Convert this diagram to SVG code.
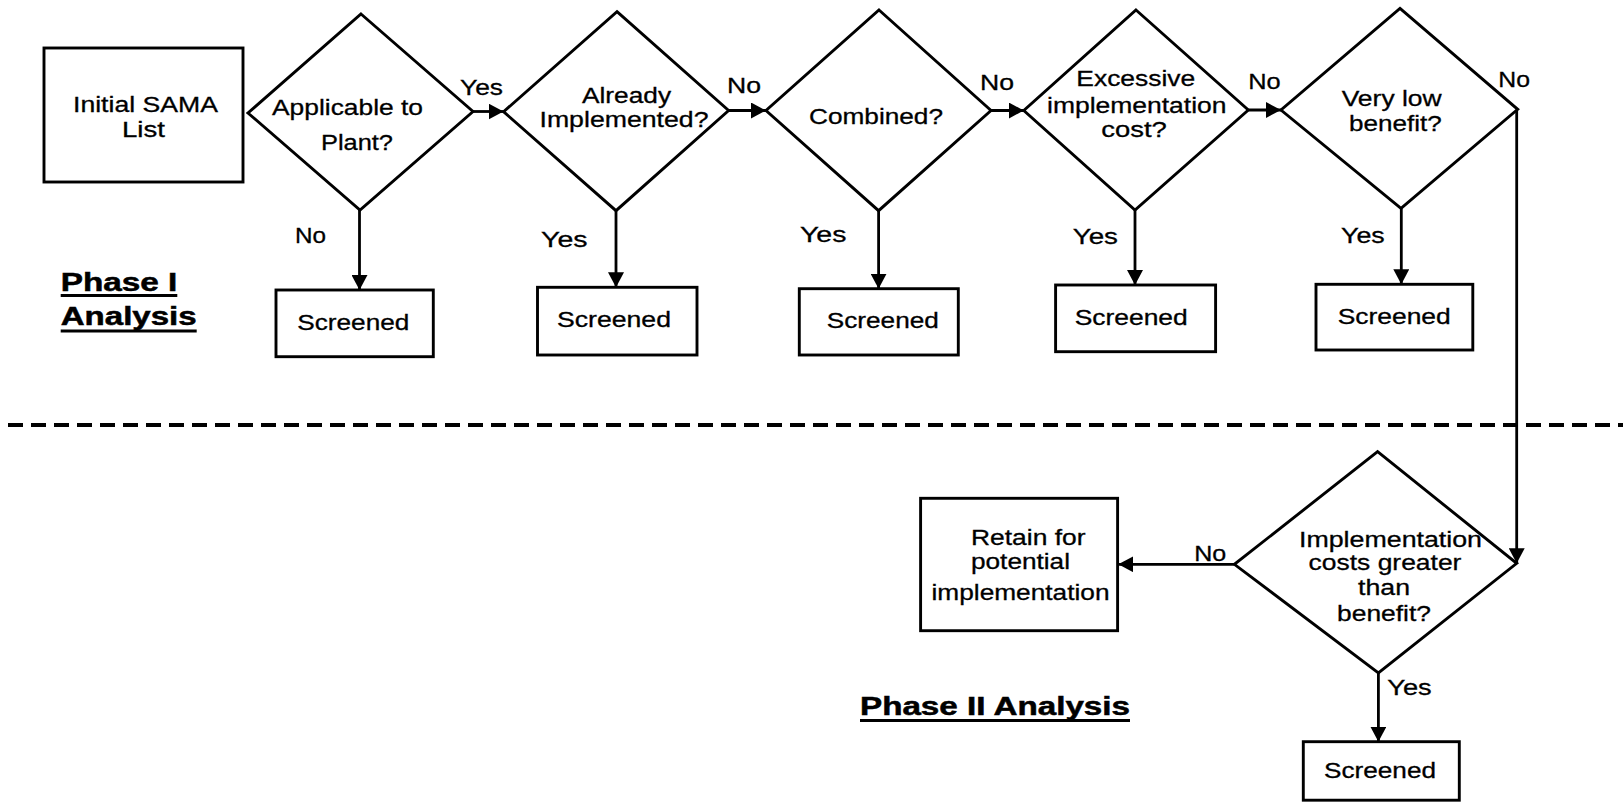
<svg xmlns="http://www.w3.org/2000/svg" width="1623" height="802" viewBox="0 0 1623 802">
<defs>
<style>
.shape{fill:#fff;stroke:#000;stroke-width:2.9}
.conn{fill:none;stroke:#000;stroke-width:2.8}
.t{font-family:"Liberation Sans",Arial,sans-serif;font-size:22px;fill:#000;stroke:#000;stroke-width:0.3}
.h{font-family:"Liberation Sans",Arial,sans-serif;font-size:25px;font-weight:bold;fill:#000;stroke:#000;stroke-width:0.5}
.ul{stroke:#000;stroke-width:3}
.dash{stroke:#000;stroke-width:4;stroke-dasharray:15 8;fill:none}
</style>
<marker id="arr" viewBox="0 0 15 16" refX="15" refY="8" markerWidth="15" markerHeight="16" markerUnits="userSpaceOnUse" orient="auto">
<path d="M0,0 L15,8 L0,16 Z" fill="#000"/>
</marker>
</defs>
<rect width="1623" height="802" fill="#fff"/>

<g id="connectors">
<polygon points="246,113 265,107 265,119" fill="#000"/>
<line class="conn" x1="473" y1="111.5" x2="503.5" y2="111.5" marker-end="url(#arr)"/>
<line class="conn" x1="728.6" y1="110.5" x2="766" y2="110.5" marker-end="url(#arr)"/>
<line class="conn" x1="991" y1="110.5" x2="1023.8" y2="110.5" marker-end="url(#arr)"/>
<line class="conn" x1="1248.3" y1="110" x2="1281" y2="110" marker-end="url(#arr)"/>
<line class="conn" x1="359.5" y1="210" x2="359.5" y2="290" marker-end="url(#arr)"/>
<line class="conn" x1="616" y1="210.7" x2="616" y2="287.3" marker-end="url(#arr)"/>
<line class="conn" x1="878.6" y1="210.7" x2="878.6" y2="288.7" marker-end="url(#arr)"/>
<line class="conn" x1="1135" y1="210" x2="1135" y2="285" marker-end="url(#arr)"/>
<line class="conn" x1="1401.3" y1="208.3" x2="1401.3" y2="284.3" marker-end="url(#arr)"/>
<polyline class="conn" points="1517.7,109.3 1516.7,109.3 1516.7,563.3" marker-end="url(#arr)"/>
<line class="conn" x1="1234.4" y1="564.3" x2="1118.3" y2="564.3" marker-end="url(#arr)"/>
<line class="conn" x1="1378.4" y1="673" x2="1378.4" y2="741.7" marker-end="url(#arr)"/>
</g>

<g id="phase-divider">
<line class="dash" x1="8" y1="425" x2="1623" y2="425"/>
</g>

<g id="initial-sama-list">
<rect class="shape" x="44" y="48" width="199" height="134"/>
<text class="t" x="73" y="111.7" textLength="145" lengthAdjust="spacingAndGlyphs">Initial SAMA</text>
<text class="t" x="122" y="136.7" textLength="43" lengthAdjust="spacingAndGlyphs">List</text>
</g>

<g id="d-applicable">
<polygon class="shape" points="361,14 473,111.5 360,210 248,113"/>
<text class="t" x="272" y="115" textLength="151" lengthAdjust="spacingAndGlyphs">Applicable to</text>
<text class="t" x="321" y="150" textLength="72" lengthAdjust="spacingAndGlyphs">Plant?</text>
</g>

<g id="d-implemented">
<polygon class="shape" points="617,11.7 728.6,110.5 616,210.7 503.6,111.7"/>
<text class="t" x="582" y="103.3" textLength="89" lengthAdjust="spacingAndGlyphs">Already</text>
<text class="t" x="539.5" y="126.7" textLength="169" lengthAdjust="spacingAndGlyphs">Implemented?</text>
</g>

<g id="d-combined">
<polygon class="shape" points="879,10 991,110.5 878.6,210.7 766,110.5"/>
<text class="t" x="809" y="124" textLength="134" lengthAdjust="spacingAndGlyphs">Combined?</text>
</g>

<g id="d-excessive">
<polygon class="shape" points="1136,10 1248.3,110 1135,210 1023.8,110.5"/>
<text class="t" x="1076.3" y="86" textLength="119" lengthAdjust="spacingAndGlyphs">Excessive</text>
<text class="t" x="1047" y="113.3" textLength="179.5" lengthAdjust="spacingAndGlyphs">implementation</text>
<text class="t" x="1101.3" y="137.3" textLength="65.6" lengthAdjust="spacingAndGlyphs">cost?</text>
</g>

<g id="d-lowbenefit">
<polygon class="shape" points="1400,8.3 1517.7,109.3 1401,208.3 1281,110"/>
<text class="t" x="1341.7" y="106" textLength="100" lengthAdjust="spacingAndGlyphs">Very low</text>
<text class="t" x="1349" y="130.7" textLength="92.7" lengthAdjust="spacingAndGlyphs">benefit?</text>
</g>

<g id="screened-1">
<rect class="shape" x="276" y="290" width="157.3" height="66.7"/>
<text class="t" x="297.3" y="330" textLength="112" lengthAdjust="spacingAndGlyphs">Screened</text>
</g>
<g id="screened-2">
<rect class="shape" x="537.5" y="287.3" width="159.5" height="67.7"/>
<text class="t" x="557" y="326.7" textLength="114" lengthAdjust="spacingAndGlyphs">Screened</text>
</g>
<g id="screened-3">
<rect class="shape" x="799.3" y="288.7" width="159" height="66.3"/>
<text class="t" x="826.8" y="328.3" textLength="112" lengthAdjust="spacingAndGlyphs">Screened</text>
</g>
<g id="screened-4">
<rect class="shape" x="1055.6" y="285" width="160" height="66.7"/>
<text class="t" x="1074.7" y="325" textLength="113" lengthAdjust="spacingAndGlyphs">Screened</text>
</g>
<g id="screened-5">
<rect class="shape" x="1316" y="284.3" width="156.8" height="65.7"/>
<text class="t" x="1337.7" y="324" textLength="113" lengthAdjust="spacingAndGlyphs">Screened</text>
</g>

<g id="d-costbenefit">
<polygon class="shape" points="1377.6,451.7 1516.7,563.3 1378.4,673 1234.4,564.3"/>
<text class="t" x="1299" y="546.7" textLength="183" lengthAdjust="spacingAndGlyphs">Implementation</text>
<text class="t" x="1308.6" y="570" textLength="152.8" lengthAdjust="spacingAndGlyphs">costs greater</text>
<text class="t" x="1358" y="595" textLength="52" lengthAdjust="spacingAndGlyphs">than</text>
<text class="t" x="1337" y="620.5" textLength="94" lengthAdjust="spacingAndGlyphs">benefit?</text>
</g>

<g id="retain">
<rect class="shape" x="920.6" y="498.3" width="197" height="132.4"/>
<text class="t" x="971" y="544.5" textLength="114.5" lengthAdjust="spacingAndGlyphs">Retain for</text>
<text class="t" x="971" y="569" textLength="99" lengthAdjust="spacingAndGlyphs">potential</text>
<text class="t" x="931.5" y="600" textLength="178" lengthAdjust="spacingAndGlyphs">implementation</text>
</g>

<g id="screened-6">
<rect class="shape" x="1303.3" y="741.7" width="156" height="58.5"/>
<text class="t" x="1324" y="778.3" textLength="112" lengthAdjust="spacingAndGlyphs">Screened</text>
</g>

<g id="edge-labels">
<text class="t" x="460" y="95" textLength="43" lengthAdjust="spacingAndGlyphs">Yes</text>
<text class="t" x="727" y="93.3" textLength="34" lengthAdjust="spacingAndGlyphs">No</text>
<text class="t" x="980" y="90" textLength="34" lengthAdjust="spacingAndGlyphs">No</text>
<text class="t" x="1248.3" y="89.3" textLength="32.4" lengthAdjust="spacingAndGlyphs">No</text>
<text class="t" x="1498.3" y="86.7" textLength="31.7" lengthAdjust="spacingAndGlyphs">No</text>
<text class="t" x="295" y="243.3" textLength="31" lengthAdjust="spacingAndGlyphs">No</text>
<text class="t" x="541" y="246.7" textLength="46.5" lengthAdjust="spacingAndGlyphs">Yes</text>
<text class="t" x="800" y="241.7" textLength="46.4" lengthAdjust="spacingAndGlyphs">Yes</text>
<text class="t" x="1072.7" y="244.3" textLength="45.3" lengthAdjust="spacingAndGlyphs">Yes</text>
<text class="t" x="1341" y="243.3" textLength="43.7" lengthAdjust="spacingAndGlyphs">Yes</text>
<text class="t" x="1194.3" y="561" textLength="32" lengthAdjust="spacingAndGlyphs">No</text>
<text class="t" x="1387.3" y="695" textLength="44.4" lengthAdjust="spacingAndGlyphs">Yes</text>
</g>

<g id="phase-labels">
<text class="h" x="60.7" y="290.7" textLength="116.7" lengthAdjust="spacingAndGlyphs">Phase I</text>
<line class="ul" x1="60.7" y1="295.5" x2="177.3" y2="295.5"/>
<text class="h" x="60.7" y="325" textLength="136" lengthAdjust="spacingAndGlyphs">Analysis</text>
<line class="ul" x1="60.7" y1="331" x2="196.7" y2="331"/>
<text class="h" x="860" y="715" textLength="270" lengthAdjust="spacingAndGlyphs">Phase II Analysis</text>
<line class="ul" x1="860" y1="720.5" x2="1130" y2="720.5"/>
</g>
</svg>
